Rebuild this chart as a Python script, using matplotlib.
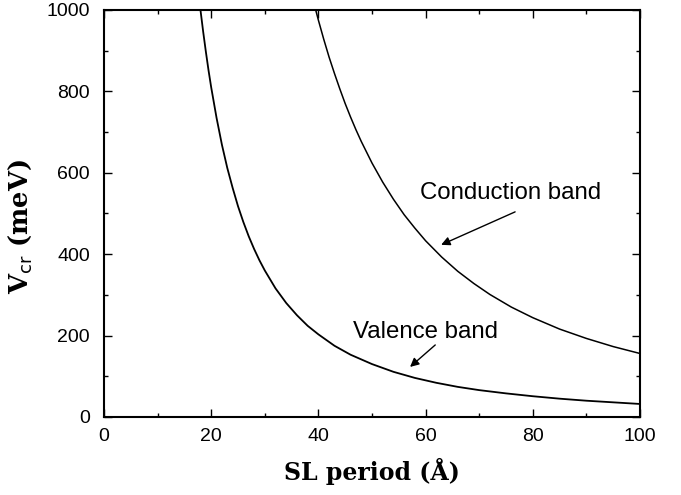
import matplotlib
matplotlib.use("Agg")
from matplotlib import pyplot as plt
from matplotlib.ticker import MultipleLocator

# values
valence_L = [18, 18.5, 19, 19.5, 20, 21, 22, 23, 24, 25, 26, 27, 28, 29, 30, 32,
             34, 36, 38, 40, 43, 46, 50, 54, 58, 62, 66, 70, 75, 80, 85, 90, 95, 100]
valence_V = [1000, 947, 898, 852, 810, 735, 669, 612, 563, 518, 479, 444, 413,
             385, 360, 316, 280, 250, 224, 203, 175, 153, 130, 111, 96, 84, 74,
             66, 58, 51, 45, 40, 36, 32]

conduction_L = [39.5, 40, 41, 42, 43, 44, 45, 46, 47, 48, 50, 52, 54, 56, 58, 60,
                63, 66, 69, 72, 76, 80, 85, 90, 95, 100]
conduction_V = [1000, 975, 928, 884, 844, 806, 770, 737, 706, 677, 624, 577, 535,
                497, 464, 433, 393, 358, 328, 301, 270, 244, 216, 193, 173, 156]

x_ticks = [0, 20, 40, 60, 80, 100]
y_ticks = [0, 200, 400, 600, 800, 1000]

fig = plt.figure(figsize=(6.81, 4.95), dpi=100)
ax = fig.add_axes([0.1527, 0.1576, 0.7871, 0.8222])

ax.plot(valence_L, valence_V, color="black", lw=1.3)
ax.plot(conduction_L, conduction_V, color="black", lw=1.1)

ax.set_xlim(0, 100)
ax.set_ylim(0, 1000)
ax.set_xticks(x_ticks)
ax.set_yticks(y_ticks)
ax.xaxis.set_minor_locator(MultipleLocator(10))
ax.yaxis.set_minor_locator(MultipleLocator(100))
ax.tick_params(which="both", direction="in", top=True, right=True, width=1.0)
ax.tick_params(which="major", length=6, labelsize=14)
ax.tick_params(axis="x", which="major", pad=8)
ax.tick_params(axis="y", which="major", pad=10)
ax.tick_params(which="minor", length=3)
for lbl in ax.get_xticklabels() + ax.get_yticklabels():
    lbl.set_family("Liberation Sans")
for s in ax.spines.values():
    s.set_linewidth(1.5)

ax.set_xlabel("SL period (Å)", family="DejaVu Serif", fontweight="bold",
              fontsize=17, labelpad=9)
ax.set_ylabel(r"V$_{\mathsf{cr}}$ (meV)", family="DejaVu Serif", fontweight="bold",
              fontsize=18.5, labelpad=10)
ax.yaxis.set_label_coords(-0.13, 0.467)

ax.text(75.9, 551, "Conduction band", ha="center", va="center",
        fontsize=17.3, family="Liberation Sans")
ax.annotate("", xy=(62.9, 423), xytext=(76.7, 504),
            arrowprops=dict(arrowstyle="-|>", color="black", lw=1.0,
                            mutation_scale=13, shrinkA=0, shrinkB=0))
ax.text(59.9, 209, "Valence band", ha="center", va="center",
        fontsize=17.3, family="Liberation Sans")
ax.annotate("", xy=(57.1, 123), xytext=(61.8, 177),
            arrowprops=dict(arrowstyle="-|>", color="black", lw=1.0,
                            mutation_scale=13, shrinkA=0, shrinkB=0))

fig.savefig("out.png", dpi=100)
